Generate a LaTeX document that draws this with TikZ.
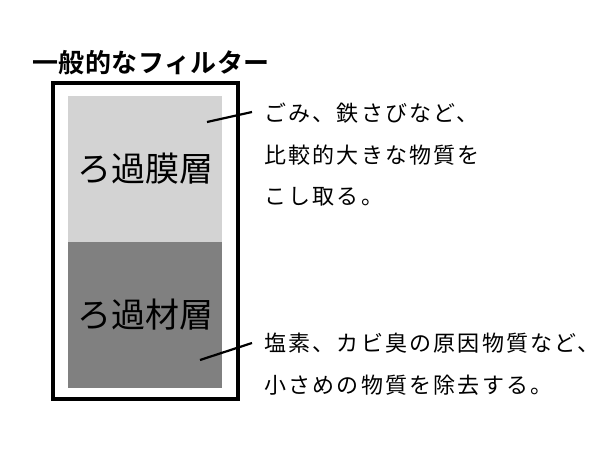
\documentclass[tikz,border=0pt]{standalone}
\usepackage{fontspec}
\newfontfamily\jp{Noto Sans CJK JP}
\newfontfamily\jpsp[LetterSpace=10]{Noto Sans CJK JP}
\newfontfamily\jpbold[LetterSpace=2]{Noto Sans CJK JP Bold}
\definecolor{lightlayer}{RGB}{211,211,211}
\definecolor{darklayer}{RGB}{128,128,128}
\tikzset{
  layer/.style={inner sep=0pt, minimum width=154pt, minimum height=146pt, font=\jp\fontsize{34}{34}\selectfont},
  note/.style={anchor=west, inner sep=0pt, font=\jpsp\fontsize{22}{22}\selectfont},
  leader/.style={line width=2.2pt}
}
\begin{document}
\begin{tikzpicture}[x=1pt,y=-1pt]
\useasboundingbox[fill=white] (0,0) rectangle (600,450);
\node (title) [inner sep=0pt, font=\jpbold\fontsize{26}{26}\selectfont] at (151,63) {一般的なフィルター};
\node (outer) [draw, line width=3.3pt, inner sep=0pt, minimum width=185pt, minimum height=316pt] at (145.5,241) {};
\node (upper) [layer, fill=lightlayer] at (145,169) {ろ過膜層};
\node (lower) [layer, fill=darklayer] at (145,315) {ろ過材層};
\coordinate (u1) at (207,122);
\coordinate (u2) at (252,112);
\coordinate (l1) at (200,360);
\coordinate (l2) at (252,343);
\draw[leader] (u1) -- (u2);
\draw[leader] (l1) -- (l2);
\node (t1) [note] at (264,113) {ごみ、鉄さびなど、};
\node (t2) [note] at (264,155) {比較的大きな物質を};
\node (t3) [note] at (264,197) {こし取る。};
\node (b1) [note] at (264,343) {塩素、カビ臭の原因物質など、};
\node (b2) [note] at (264,385) {小さめの物質を除去する。};
\end{tikzpicture}
\end{document}
